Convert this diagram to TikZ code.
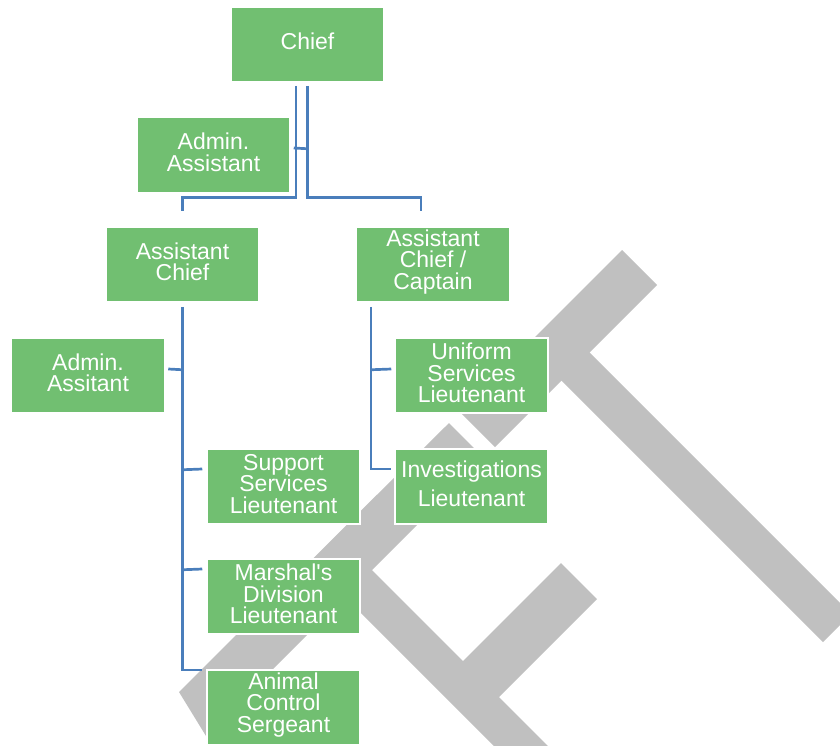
\documentclass[tikz,border=0pt]{standalone}
\usepackage{fontspec}
\setmainfont{Liberation Sans}[Ligatures=TeXOff]
\usetikzlibrary{calc}
\definecolor{boxgreen}{RGB}{113,191,113}
\definecolor{linkblue}{RGB}{74,126,187}
\definecolor{markgray}{RGB}{192,192,192}
\newcommand\orgfont{\fontsize{23}{21.5}\selectfont\lineskiplimit=-30pt\relax}
% centred lines of a box, lifted a little by the space added below them
\newcommand\orgtext[2][5pt]{\vbox{\hsize=150pt\parindent=0pt\centering #2\par\vskip#1}}
\tikzset{
  orgbox/.style={draw=white, line width=1.5pt, fill=boxgreen, text=white,
    minimum width=153pt, minimum height=75pt, inner sep=0pt,
    font=\orgfont},
  link/.style={draw=linkblue, line width=2.7pt},
  watermark/.style={fill=markgray, draw=none}
}
\begin{document}
\begin{tikzpicture}[x=1pt,y=-1pt]
\useasboundingbox (0,0) rectangle (840,745);

% background watermark strokes
\begin{scope}
  \clip (0,0) rectangle (840,745);
  \fill[watermark] (622,250) -- (657,285) -- (495,447) -- (460,412) -- cycle;
  \fill[watermark] (568.5,331.5) -- (851,614) -- (823,642) -- (540.5,359.5) -- cycle;
  \fill[watermark] (449,423) -- (484,458) -- (206,736) -- (179,692) -- cycle;
  \fill[watermark] (351,549) -- (602,800) -- (548,800) -- (324,576) -- cycle;
  \fill[watermark] (561,563) -- (597,599) -- (485.5,710.5) -- (449.5,674.5) -- cycle;
\end{scope}

% positions
\node[orgbox] (chief)  at (307.5,44.5)  {\orgtext[7pt]{Chief}};
\node[orgbox] (admin1) at (213.5,155)   {\orgtext{Admin.\\Assistant}};
\node[orgbox] (ac1)    at (182.5,264.5) {\orgtext{Assistant\\Chief}};
\node[orgbox] (ac2)    at (433,264.5)   {\orgtext{Assistant\\Chief /\\Captain}};
\node[orgbox] (admin2) at (88,375.5)    {\orgtext{Admin.\\Assitant}};
\node[orgbox] (usl)    at (471.5,375.5) {\orgtext{Uniform\\Services\\Lieutenant}};
\node[orgbox] (inv)    at (471.5,486.5) {\orgtext{Investigations\\[7.5pt]Lieutenant}};
\node[orgbox] (ssl)    at (283.5,486.5) {\orgtext{Support\\Services\\Lieutenant}};
\node[orgbox] (mdl)    at (283.5,596.5) {\orgtext{Marshal's\\Division\\Lieutenant}};
\node[orgbox] (acs)    at (283.5,707.5) {\orgtext{Animal\\Control\\Sergeant}};

% chief connectors
\draw[link] ($(chief.south)+(-11.5,3)$) |- ($(ac1.north)+(0,-29)$) -- ($(ac1.north)+(0,-15)$);
\draw[link] ($(chief.south)+(0,3)$) |- ($(ac2.north)+(-12,-29)$) -- ($(ac2.north)+(-12,-15)$);
\draw[link] ($(admin1.east)+(3,-7)$) -- ($(chief.south)+(0,66)$);

% assistant chief connectors
\draw[link] ($(ac1.south)+(0,4)$) |- ($(acs.west)+(-4,-37.5)$);
\draw[link] ($(ac1.south)+(0,67)$) -- ($(admin2.east)+(3,-6.5)$);
\draw[link] ($(ac1.south)+(0,167)$) -- ($(ssl.west)+(-4,-17.5)$);
\draw[link] ($(ac1.south)+(0,267)$) -- ($(mdl.west)+(-4,-27.5)$);

% assistant chief / captain connectors
\draw[link] ($(ac2.south)+(-62,4)$) |- ($(inv.west)+(-3,-17.5)$);
\draw[link] ($(ac2.south)+(-62,67)$) -- ($(usl.west)+(-3,-6.5)$);
\end{tikzpicture}
\end{document}
